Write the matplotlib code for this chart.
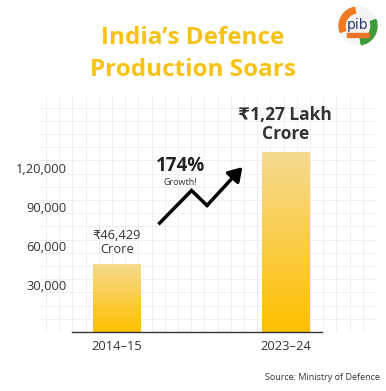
import numpy as np
import matplotlib
matplotlib.use("Agg")
import matplotlib.pyplot as plt
from matplotlib.patches import Circle, Wedge, Rectangle

# data
years = ["2014\u201315", "2023\u201324"]
values = [46429, 132000]   # bar heights as drawn in the picture
bar_labels = ["\u20b946,429\nCrore", "\u20b91,27 Lakh\nCrore"]
yticks = [30000, 60000, 90000, 120000]
ytick_labels = ["30,000", "60,000", "90,000", "1,20,000"]
growth = "174%"
# zigzag arrow path (x in category units, y in crore)
arrow_x = [0.254, 0.443, 0.535, 0.745]
arrow_y = [77500, 102500, 91000, 120500]

plt.rcParams['font.family'] = ['Open Sans', 'DejaVu Sans']

fig = plt.figure(figsize=(3.86, 3.91), dpi=100)
W, H = 386, 391

# background grid
bg = fig.add_axes([40 / W, 1 - 332 / H, 335 / W, 235 / H])
bg.set_xlim(0, 335)
bg.set_ylim(0, 235)
for gx in np.arange(6, 335, 13.2):
    bg.axvline(gx, color="#efefef", lw=0.7)
for gy in np.arange(0, 235, 13.2):
    bg.axhline(gy, color="#efefef", lw=0.7)
bg.axis("off")

ax = fig.add_axes([72 / W, 1 - 332 / H, 250 / W, 232 / H])
ax.patch.set_alpha(0)
base = -6150
ax.set_xlim(-0.266, 1.217)
ax.set_ylim(base, 172000)

xs = np.arange(len(years))
bars = ax.bar(xs, np.array(values) - base, bottom=base, width=0.28,
              color="none", edgecolor="none")

grad = np.linspace(0, 1, 256).reshape(-1, 1)
cmap = matplotlib.colors.LinearSegmentedColormap.from_list(
    "g", ["#FFC000", "#F5DA90"])
for b in bars:
    im = ax.imshow(grad, cmap=cmap, origin="lower", aspect="auto",
                   extent=[b.get_x(), b.get_x() + b.get_width(),
                           b.get_y(), b.get_y() + b.get_height()],
                   zorder=2)
    im.set_clip_path(b)

ax.set_yticks(yticks)
ax.set_yticklabels(ytick_labels)
ax.set_xticks(xs)
ax.set_xticklabels(years)
ax.tick_params(length=0, labelsize=9.3, colors="#333333")
ax.tick_params(axis="y", pad=4)
ax.tick_params(axis="x", pad=6)
for s in ["top", "right", "left"]:
    ax.spines[s].set_visible(False)
ax.spines["bottom"].set_color("#333333")
ax.spines["bottom"].set_linewidth(1.0)

# value labels
ax.text(xs[0], values[0] + 5500, bar_labels[0], ha="center", va="bottom",
        fontsize=9.3, color="#333333", linespacing=1.15)
ax.text(xs[1], values[1] + 7000, bar_labels[1], ha="center", va="bottom",
        fontsize=12.5, fontweight="bold", color="#333333", linespacing=1.05)

# growth arrow
ax.plot(arrow_x[:-1], arrow_y[:-1], color="black", lw=2.5,
        solid_joinstyle="miter", zorder=3)
ax.annotate("", xy=(arrow_x[-1], arrow_y[-1]), xytext=(arrow_x[-2], arrow_y[-2]),
            arrowprops=dict(arrowstyle="-|>,head_length=0.8,head_width=0.5",
                            color="black", lw=2.5, shrinkA=0, shrinkB=0),
            zorder=3)
ax.text(0.378, 121500, growth, ha="center", va="center", fontsize=13.5,
        fontweight="bold", color="#222222")
ax.text(0.378, 108500, "Growth!", ha="center", va="center", fontsize=6.5,
        color="#333333")

# title
fig.text(0.5, 1 - 38 / H, "India\u2019s Defence", ha="center", va="center",
         fontsize=17.5, fontweight="bold", color="#F8C212")
fig.text(0.5, 1 - 70 / H, "Production Soars", ha="center", va="center",
         fontsize=17.5, fontweight="bold", color="#F8C212")

# source
fig.text(380 / W, 1 - 378 / H, "Source: Ministry of Defence", ha="right",
         va="center", fontsize=6.5, color="#333333")

# logo (approximate)
lg = fig.add_axes([338 / W, 1 - 46 / H, 40 / W, 40 / H])
lg.set_xlim(-1, 1)
lg.set_ylim(-1, 1)
lg.set_aspect("equal")
lg.axis("off")
lg.add_patch(Circle((0, 0), 0.95, color="#f4f4f4"))
lg.add_patch(Wedge((0, 0), 0.95, 100, 200, width=0.3, color="#F07B23"))
lg.add_patch(Wedge((0, 0), 0.95, 280, 20, width=0.3, color="#3E9B3A"))
lg.text(0, 0.05, "pib", ha="center", va="center", fontsize=10,
        color="#2B3A67", family="DejaVu Sans")
lg.add_patch(Rectangle((-0.55, -0.55), 1.1, 0.18, color="#E8742A"))

fig.savefig("out.png", dpi=100)
